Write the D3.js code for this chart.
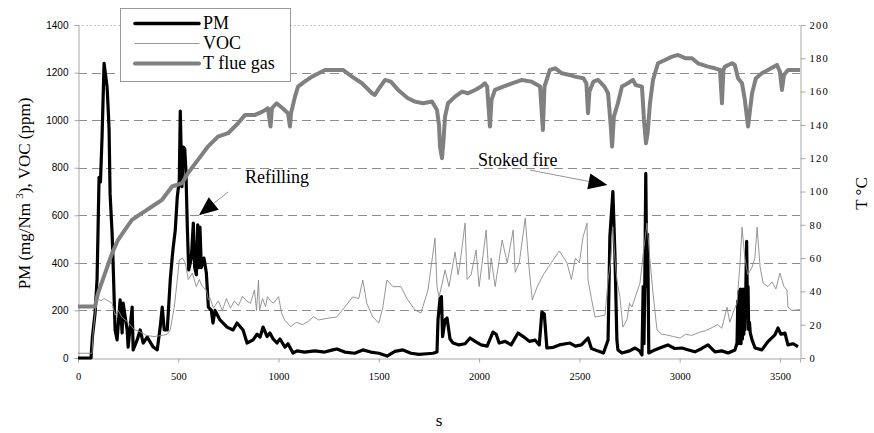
<!DOCTYPE html>
<html>
<head>
<meta charset="utf-8">
<script src="https://d3js.org/d3.v7.min.js"></script>
<style>
  body { margin: 0; background: #fff; }
  svg { display: block; }
  .grid-line { stroke: #8c8c8c; stroke-width: 1; stroke-dasharray: 9,5; }
  .top-line { stroke: #c8c8c8; stroke-width: 1; stroke-dasharray: 2,2; }
  .axis-line { stroke: #a8a8a8; stroke-width: 1; }
  .tick-mark { stroke: #a8a8a8; stroke-width: 1; }
  .tick-left { font-family: "Liberation Sans", Arial, sans-serif; font-size: 10px; fill: #000; }
  .tick-right { font-family: "Liberation Serif", "Times New Roman", serif; font-size: 10.5px; letter-spacing: 1.2px; fill: #000; }
  .tick-bottom { font-family: "Liberation Serif", "Times New Roman", serif; font-size: 10.5px; fill: #000; }
  .axis-title, .legend-label, .note { font-family: "Liberation Serif", "Times New Roman", serif; fill: #000; }
</style>
</head>
<body>
<div id="chart"></div>
<script>
/* Time series of PM, VOC and flue gas temperature during a firing cycle.
   Values: [time (s), value]
*/

// PM (mg/Nm3), left axis
var pmData = [
  [0,0],[65,0],[72,90],[85,188],[95,330],[100,540],[105,760],[112,740],[120,930],[130,1239],
  [145,1140],[150,1055],[155,960],[160,690],[170,525],[175,400],[185,118],[195,76],[210,244],[220,105],
  [225,231],[245,118],[250,46],[270,214],[275,34],[295,76],[310,118],[325,63],[345,88],[375,46],
  [395,34],[410,130],[420,214],[430,118],[445,118],[460,328],[470,425],[475,467],[485,538],[495,677],
  [505,748],[510,1038],[518,720],[525,887],[532,880],[538,790],[545,552],[552,370],[565,420],[575,567],
  [582,380],[590,350],[597,560],[603,380],[608,550],[615,380],[628,420],[640,357],[650,214],[665,200],
  [673,147],[683,200],[708,160],[743,130],[773,118],[793,147],[823,118],[843,63],[873,76],[893,100],
  [908,88],[923,130],[943,90],[957,105],[973,80],[992,63],[1007,80],[1032,46],[1047,60],[1072,21],
  [1092,30],[1107,28],[1130,25],[1180,30],[1230,25],[1270,34],[1291,38],[1330,25],[1380,20],[1420,34],
  [1460,25],[1500,20],[1541,8],[1580,28],[1620,34],[1660,20],[1700,15],[1740,18],[1770,20],[1790,25],
  [1795,160],[1805,250],[1812,258],[1818,90],[1830,160],[1840,168],[1855,80],[1870,63],[1900,55],[1930,60],
  [1955,84],[1980,70],[2010,55],[2040,50],[2069,109],[2085,100],[2100,63],[2130,70],[2160,55],[2194,105],
  [2220,90],[2250,70],[2280,75],[2300,55],[2313,193],[2325,185],[2338,42],[2370,45],[2400,55],[2453,63],
  [2480,50],[2510,55],[2543,84],[2560,40],[2590,30],[2620,21],[2643,76],[2652,510],[2667,700],[2677,440],
  [2687,76],[2692,34],[2712,21],[2750,30],[2777,42],[2800,30],[2812,13],[2818,300],[2822,60],[2826,300],
  [2831,776],[2834,525],[2837,300],[2840,520],[2843,300],[2846,21],[2876,34],[2910,45],[2941,55],[2975,40],
  [3012,42],[3040,35],[3076,26],[3110,40],[3141,55],[3176,26],[3210,30],[3241,21],[3276,34],[3286,63],
  [3290,240],[3293,60],[3296,280],[3300,70],[3303,290],[3306,60],[3310,280],[3313,80],[3316,290],[3320,100],
  [3323,280],[3326,120],[3330,300],[3334,490],[3338,200],[3341,300],[3344,120],[3348,150],[3352,105],[3361,76],
  [3376,42],[3410,34],[3440,69],[3475,97],[3490,126],[3505,100],[3525,105],[3540,55],[3565,60],[3590,48]
];

// VOC (ppm), left axis
var vocData = [
  [0,20],[70,20],[75,100],[90,230],[100,250],[115,240],[130,250],[150,240],[170,230],[185,180],
  [200,200],[220,170],[250,150],[280,120],[310,110],[340,95],[380,90],[420,95],[445,100],[460,118],
  [480,214],[495,328],[505,412],[520,420],[535,400],[550,330],[570,357],[590,300],[605,330],[620,300],
  [640,286],[650,244],[660,250],[675,210],[700,240],[720,200],[740,250],[760,210],[780,240],[800,220],
  [820,260],[840,240],[860,230],[880,286],[890,200],[900,328],[905,200],[920,250],[935,216],[945,258],
  [960,240],[975,230],[1000,258],[1015,189],[1030,160],[1060,132],[1090,150],[1120,140],[1150,155],[1175,174],
  [1200,160],[1250,168],[1290,172],[1330,214],[1370,257],[1400,250],[1420,328],[1440,230],[1470,172],[1500,147],
  [1520,214],[1540,328],[1570,300],[1610,300],[1640,250],[1680,202],[1710,189],[1745,286],[1780,504],[1790,300],
  [1800,257],[1815,310],[1830,370],[1850,300],[1880,446],[1895,350],[1905,400],[1930,567],[1940,330],[1960,350],
  [1985,454],[2000,300],[2015,400],[2035,538],[2050,330],[2060,420],[2080,300],[2115,496],[2140,400],[2170,538],
  [2180,360],[2200,400],[2230,588],[2250,370],[2265,244],[2290,300],[2320,350],[2360,400],[2400,450],[2438,400],
  [2460,330],[2480,420],[2500,400],[2518,508],[2538,567],[2543,328],[2560,250],[2578,172],[2628,180],[2643,328],
  [2655,400],[2667,550],[2677,420],[2687,328],[2702,257],[2717,130],[2737,160],[2750,230],[2762,214],[2780,260],
  [2802,315],[2820,450],[2837,567],[2852,412],[2867,273],[2887,118],[2910,100],[2936,97],[2970,90],[3002,84],
  [3030,100],[3060,95],[3101,109],[3130,115],[3166,130],[3190,140],[3210,125],[3236,214],[3250,150],[3270,200],
  [3286,231],[3301,400],[3311,550],[3325,420],[3340,350],[3360,380],[3375,420],[3386,550],[3401,383],[3416,315],
  [3440,300],[3460,320],[3480,290],[3500,357],[3520,300],[3535,286],[3540,214],[3560,200],[3585,202],[3600,205]
];

// T flue gas (°C), right axis
var tempData = [
  [0,31],[85,31],[100,39],[135,51],[170,63],[200,71],[234,77],[269,83],[319,87],[369,91],
  [419,95],[469,103],[519,105],[548,111],[598,119],[648,127],[698,133],[748,135],[798,141],[833,146],
  [883,146],[920,148],[947,150],[960,139],[967,150],[990,153],[1020,150],[1047,147],[1057,139],[1062,147],
  [1082,157],[1097,163],[1130,166],[1167,169],[1200,171],[1232,173],[1280,173],[1321,173],[1366,169],[1416,165],
  [1466,159],[1480,158],[1496,161],[1531,167],[1560,166],[1596,161],[1645,156],[1680,154],[1720,153],[1765,154],
  [1790,149],[1800,140],[1805,127],[1815,120],[1822,130],[1830,145],[1845,153],[1880,157],[1915,160],[1945,159],
  [1980,161],[2010,163],[2029,165],[2040,163],[2054,139],[2062,155],[2079,161],[2120,163],[2164,165],[2214,167],
  [2260,166],[2304,163],[2318,137],[2326,163],[2353,173],[2380,174],[2413,171],[2450,170],[2478,169],[2520,168],
  [2535,165],[2543,147],[2550,160],[2570,166],[2593,167],[2625,163],[2643,159],[2656,140],[2663,127],[2672,145],
  [2692,153],[2712,163],[2742,165],[2767,167],[2780,164],[2812,163],[2822,143],[2832,129],[2840,135],[2852,153],
  [2867,167],[2892,177],[2927,179],[2962,181],[2992,182],[3030,180],[3061,180],[3091,177],[3141,175],[3176,174],
  [3201,173],[3211,153],[3218,173],[3226,175],[3261,177],[3275,176],[3291,168],[3311,165],[3325,155],[3341,139],
  [3350,148],[3361,159],[3380,168],[3410,171],[3440,173],[3485,176],[3500,172],[3510,161],[3520,170],[3540,173],
  [3590,173],[3600,173]
];

// Axis ticks
var xTicks = [0, 500, 1000, 1500, 2000, 2500, 3000, 3500];
var leftTicks = [0, 200, 400, 600, 800, 1000, 1200, 1400];
var rightTicks = [0, 20, 40, 60, 80, 100, 120, 140, 160, 180, 200];

// Legend entries
var seriesNames = ["PM", "VOC", "T flue gas"];

// Annotations: [label, text anchor (t, value), arrow start (t, value), arrow tip (t, value)]
var notes = [
  ["Refilling",   [833, 736],  [748, 698],  [603, 600]],
  ["Stoked fire", [1994, 807], [2254, 790], [2640, 727]]
];

/* Chart setup
*/
var width = 874, height = 433;
var margin = { top: 25, right: 74, bottom: 75, left: 78 };

var svg = d3.select("#chart").append("svg")
    .attr("width", width)
    .attr("height", height);

var x = d3.scaleLinear().domain([0, 3600]).range([margin.left, width - margin.right]);
var yL = d3.scaleLinear().domain([0, 1400]).range([height - margin.bottom, margin.top]);
var yR = d3.scaleLinear().domain([0, 200]).range([height - margin.bottom, margin.top]);

var x0 = x.range()[0], x1 = x.range()[1];
var yBottom = yL.range()[0], yTop = yL.range()[1];
var plain = d3.format("d");

/* Gridlines
*/
svg.append("g")
  .selectAll("line")
  .data(leftTicks.filter(function(d) { return d > 0 && d < 1400; }))
  .enter()
    .append("line")
      .attr("class", "grid-line")
      .attr("x1", x0).attr("x2", x1)
      .attr("y1", function(d) { return Math.round(yL(d)) + 0.5; })
      .attr("y2", function(d) { return Math.round(yL(d)) + 0.5; });

svg.append("line")
  .attr("class", "top-line")
  .attr("x1", x0).attr("x2", x1)
  .attr("y1", Math.round(yTop) + 0.5).attr("y2", Math.round(yTop) + 0.5);

/* Axes
*/
// Left
var leftAxis = svg.append("g")
  .attr("transform", "translate(" + (Math.round(x0) + 0.5) + ",0)")
  .call(d3.axisLeft(yL).tickValues(leftTicks).tickFormat(plain).tickSize(4).tickPadding(6));
leftAxis.select(".domain").attr("class", "axis-line").attr("fill", "none");
leftAxis.selectAll(".tick line").attr("class", "tick-mark");
leftAxis.selectAll("text").attr("class", "tick-left");

// Right
var rightAxis = svg.append("g")
  .attr("transform", "translate(" + (Math.round(x1) + 0.5) + ",0)")
  .call(d3.axisRight(yR).tickValues(rightTicks).tickFormat(plain).tickSize(5).tickPadding(4));
rightAxis.select(".domain").attr("class", "axis-line").attr("fill", "none");
rightAxis.selectAll(".tick line").attr("class", "tick-mark");
rightAxis.selectAll("text").attr("class", "tick-right");

// Bottom
var bottomAxis = svg.append("g")
  .attr("transform", "translate(0," + (Math.round(yBottom) + 0.5) + ")")
  .call(d3.axisBottom(x).tickValues(xTicks).tickFormat(plain).tickSize(4).tickPadding(10));
bottomAxis.select(".domain").attr("class", "axis-line").attr("fill", "none");
bottomAxis.selectAll(".tick line").attr("class", "tick-mark");
bottomAxis.selectAll("text").attr("class", "tick-bottom");

/* Series
*/
var lineL = d3.line()
  .x(function(d) { return x(d[0]); })
  .y(function(d) { return yL(d[1]); });
var lineR = d3.line()
  .x(function(d) { return x(d[0]); })
  .y(function(d) { return yR(d[1]); });

svg.append("path")
  .datum(pmData)
  .attr("fill", "none")
  .attr("stroke", "#000")
  .attr("stroke-width", 3.2)
  .attr("stroke-linejoin", "round")
  .attr("d", lineL);

svg.append("path")
  .datum(vocData)
  .attr("fill", "none")
  .attr("stroke", "#8a8a8a")
  .attr("stroke-width", 0.9)
  .attr("d", lineL);

svg.append("path")
  .datum(tempData)
  .attr("fill", "none")
  .attr("stroke", "#808080")
  .attr("stroke-width", 4)
  .attr("stroke-linejoin", "round")
  .attr("d", lineR);

/* Annotations
*/
var noteG = svg.append("g");
notes.forEach(function(n) {
  var sx = x(n[2][0]), sy = yL(n[2][1]);
  var tx = x(n[3][0]), ty = yL(n[3][1]);
  var ang = Math.atan2(ty - sy, tx - sx);
  var headLen = 19, headW = 8;
  var bx = tx - headLen * Math.cos(ang), by = ty - headLen * Math.sin(ang);

  noteG.append("line")
    .attr("x1", sx).attr("y1", sy)
    .attr("x2", bx).attr("y2", by)
    .attr("stroke", "#777")
    .attr("stroke-width", 0.8);

  noteG.append("path")
    .attr("d", "M" + tx + "," + ty +
      "L" + (bx + headW * Math.sin(ang)) + "," + (by - headW * Math.cos(ang)) +
      "L" + (bx - headW * Math.sin(ang)) + "," + (by + headW * Math.cos(ang)) + "Z")
    .attr("fill", "#000");

  noteG.append("text")
    .attr("class", "note")
    .attr("x", x(n[1][0]))
    .attr("y", yL(n[1][1]))
    .attr("font-size", "18px")
    .text(n[0]);
});

/* Legend
*/
var legend = svg.append("g").attr("transform", "translate(120,8)");
legend.append("rect")
  .attr("x", 0.5).attr("y", 0.5)
  .attr("width", 170).attr("height", 73)
  .attr("fill", "#fff")
  .attr("stroke", "#999");

var legendStyle = [
  { stroke: "#000", width: 3.5 },
  { stroke: "#8a8a8a", width: 0.9 },
  { stroke: "#808080", width: 4 }
];
legend.selectAll(".legend-line")
  .data(seriesNames)
  .enter()
    .append("line")
      .attr("x1", 15).attr("x2", 79)
      .attr("y1", function(d, i) { return 15.5 + i * 20; })
      .attr("y2", function(d, i) { return 15.5 + i * 20; })
      .attr("stroke", function(d, i) { return legendStyle[i].stroke; })
      .attr("stroke-width", function(d, i) { return legendStyle[i].width; })
      .attr("stroke-linecap", "round");

legend.selectAll(".legend-label")
  .data(seriesNames)
  .enter()
    .append("text")
      .attr("class", "legend-label")
      .attr("x", 83)
      .attr("y", function(d, i) { return 21 + i * 20; })
      .attr("font-size", "18px")
      .text(function(d) { return d; });

/* Axis titles
*/
var leftTitle = svg.append("text")
  .attr("class", "axis-title")
  .attr("font-size", "17px")
  .attr("text-anchor", "middle")
  .attr("transform", "translate(30," + ((yTop + yBottom) / 2 + 2) + ") rotate(-90)");
leftTitle.append("tspan").text("PM (mg/Nm ");
leftTitle.append("tspan").attr("dy", -7).attr("font-size", "11px").text("3");
leftTitle.append("tspan").attr("dy", 7).text("), VOC (ppm)");

svg.append("text")
  .attr("class", "axis-title")
  .attr("font-size", "17px")
  .attr("text-anchor", "middle")
  .attr("transform", "translate(867," + ((yTop + yBottom) / 2 + 2) + ") rotate(-90)")
  .text("T °C");

svg.append("text")
  .attr("class", "axis-title")
  .attr("font-size", "17px")
  .attr("text-anchor", "middle")
  .attr("x", (x0 + x1) / 2)
  .attr("y", 426)
  .text("s");
</script>
</body>
</html>
